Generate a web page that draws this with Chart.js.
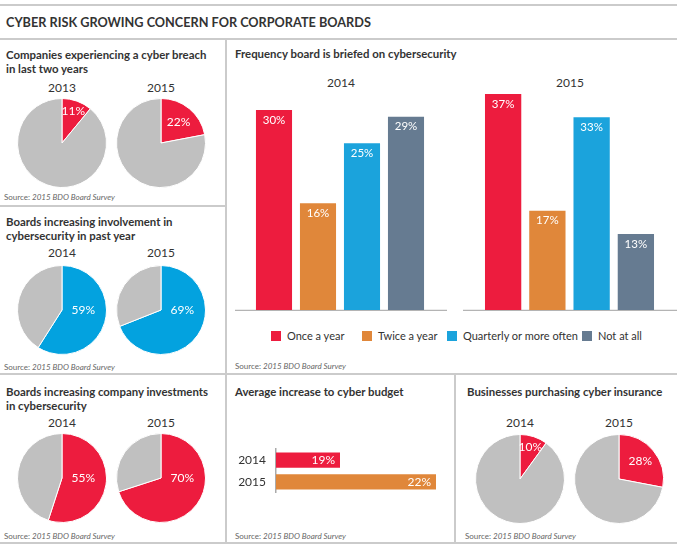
<!DOCTYPE html>
<html>
<head>
<meta charset="utf-8">
<script src="https://cdn.jsdelivr.net/npm/chart.js@4.4.1/dist/chart.umd.min.js"></script>
<style>
  body { margin: 0; width: 679px; height: 550px; background: #fff; font-family: Lato, "Open Sans", sans-serif; color: #333; position: relative; overflow: hidden; }
  .hl, .vl { position: absolute; background: #cbcbcb; }
  .hl { height: 2px; }
  .vl { width: 2px; }
  .t { position: absolute; white-space: nowrap; }
  .main { font-weight: 700; font-size: 12.7px; line-height: 16px; color: #333; }
  .ptitle { font-weight: 700; font-size: 11.4px; line-height: 14px; color: #333; }
  .year { font-size: 12px; line-height: 14px; width: 100px; text-align: center; color: #333; }
  .src { font-size: 8px; line-height: 10px; color: #666; }
  .src i { font-style: italic; }
  .leg { position: absolute; font-size: 11px; line-height: 14px; color: #333; white-space: nowrap; }
  .sw { position: absolute; width: 10px; height: 10px; }
  canvas { position: absolute; }
</style>
</head>
<body>
<!-- frame lines -->
<div class="hl" style="left:0;top:4px;width:677px"></div>
<div class="hl" style="left:0;top:38px;width:677px"></div>
<div class="vl" style="left:225px;top:39px;height:505px"></div>
<div class="hl" style="left:0;top:205px;width:226px"></div>
<div class="hl" style="left:0;top:373px;width:677px"></div>
<div class="vl" style="left:454px;top:374px;height:170px"></div>
<div class="hl" style="left:0;top:542px;width:677px"></div>

<div class="t main" style="left:6px;top:14px">CYBER RISK GROWING CONCERN FOR CORPORATE BOARDS</div>

<div class="t ptitle" style="left:6px;top:48px">Companies experiencing a cyber breach<br>in last two years</div>
<div class="t ptitle" style="left:6px;top:215px">Boards increasing involvement in<br>cybersecurity in past year</div>
<div class="t ptitle" style="left:6px;top:385px">Boards increasing company investments<br>in cybersecurity</div>
<div class="t ptitle" style="left:235px;top:47px">Frequency board is briefed on cybersecurity</div>
<div class="t ptitle" style="left:235px;top:385px">Average increase to cyber budget</div>
<div class="t ptitle" style="left:467px;top:385px">Businesses purchasing cyber insurance</div>

<div id="years"></div>

<div class="t src" style="left:4px;top:192px">Source: <i>2015 BDO Board Survey</i></div>
<div class="t src" style="left:4px;top:362px">Source: <i>2015 BDO Board Survey</i></div>
<div class="t src" style="left:4px;top:531px">Source: <i>2015 BDO Board Survey</i></div>
<div class="t src" style="left:235px;top:361px">Source: <i>2015 BDO Board Survey</i></div>
<div class="t src" style="left:235px;top:531px">Source: <i>2015 BDO Board Survey</i></div>
<div class="t src" style="left:465px;top:531px">Source: <i>2015 BDO Board Survey</i></div>

<div id="legend"></div>

<canvas id="breach0" width="90" height="90" style="left:17px;top:98px"></canvas>
<canvas id="breach1" width="90" height="90" style="left:116px;top:98px"></canvas>
<canvas id="involve0" width="90" height="90" style="left:17px;top:265px"></canvas>
<canvas id="involve1" width="90" height="90" style="left:116px;top:265px"></canvas>
<canvas id="invest0" width="90" height="90" style="left:17px;top:433px"></canvas>
<canvas id="invest1" width="90" height="90" style="left:116px;top:433px"></canvas>
<canvas id="insure0" width="90" height="90" style="left:475px;top:434px"></canvas>
<canvas id="insure1" width="90" height="90" style="left:574px;top:434px"></canvas>
<canvas id="freq2014" width="212" height="217" style="left:235px;top:94px"></canvas>
<canvas id="freq2015" width="214" height="217" style="left:463px;top:94px"></canvas>
<canvas id="budget" width="210" height="78" style="left:235px;top:432px"></canvas>

<script>
const breachYears = ['2013', '2015'];
const breachValues = [11, 22];

const involvementYears = ['2014', '2015'];
const involvementValues = [59, 69];

const investmentYears = ['2014', '2015'];
const investmentValues = [55, 70];

const insuranceYears = ['2014', '2015'];
const insuranceValues = [10, 28];

const frequencyGroups = ['2014', '2015'];
const frequencyCategories = ['Once a year', 'Twice a year', 'Quarterly or more often', 'Not at all'];
const frequency2014 = [30, 16, 25, 29];
const frequency2015 = [37, 17, 33, 13];

const budgetYears = ['2014', '2015'];
const budgetValues = [19, 22];

// ---- colours ----
const RED = '#ed1c3e';
const ORANGE = '#e0873a';
const BLUE = '#1ba3dc';
const PIE_BLUE = '#03a2df';
const SLATE = '#667b91';
const GREY = '#c0c0c0';
const frequencyColors = [RED, ORANGE, BLUE, SLATE];

const FONT = 'Lato, "Open Sans", sans-serif';

// label inside the coloured slice
const pieLabelPlugin = {
    id: 'pieLabel',
    afterDatasetsDraw(chart) {
        const arc = chart.getDatasetMeta(0).data[0];
        const value = chart.data.datasets[0].data[0];
        const R = arc.outerRadius;
        const frac = value / 100;
        let x, y;
        if (frac > 0.5) {
            x = arc.x + R * 0.48;
            y = arc.y;
        } else {
            const mid = (arc.startAngle + arc.endAngle) / 2;
            const k = frac < 0.15 ? 0.75 : 0.62;
            x = arc.x + Math.cos(mid) * R * k;
            y = arc.y + Math.sin(mid) * R * k;
        }
        const ctx = chart.ctx;
        ctx.save();
        ctx.fillStyle = '#fff';
        ctx.font = '12px ' + FONT;
        ctx.textAlign = 'center';
        ctx.textBaseline = 'middle';
        ctx.fillText(value + '%', x, y);
        ctx.restore();
    }
};

// white value label near the top of each column
const columnLabelPlugin = {
    id: 'columnLabel',
    afterDatasetsDraw(chart) {
        const ctx = chart.ctx;
        const values = chart.data.datasets[0].data;
        ctx.save();
        ctx.fillStyle = '#fff';
        ctx.font = '11.5px ' + FONT;
        ctx.textAlign = 'center';
        ctx.textBaseline = 'middle';
        chart.getDatasetMeta(0).data.forEach((bar, i) => {
            ctx.fillText(values[i] + '%', bar.x, bar.y + 10);
        });
        ctx.restore();
    }
};

// grey baseline running the full canvas width
const baselinePlugin = {
    id: 'baseline',
    beforeDatasetsDraw(chart) {
        const ctx = chart.ctx;
        const y = chart.chartArea.bottom + 0.5;
        ctx.save();
        ctx.strokeStyle = '#b4b4b4';
        ctx.lineWidth = 1.5;
        ctx.beginPath();
        ctx.moveTo(0, y);
        ctx.lineTo(chart.width, y);
        ctx.stroke();
        ctx.restore();
    }
};

// value label at the end of each horizontal bar
const barEndLabelPlugin = {
    id: 'barEndLabel',
    afterDatasetsDraw(chart) {
        const ctx = chart.ctx;
        const values = chart.data.datasets[0].data;
        ctx.save();
        ctx.fillStyle = '#fff';
        ctx.font = '12px ' + FONT;
        ctx.textAlign = 'right';
        ctx.textBaseline = 'middle';
        chart.getDatasetMeta(0).data.forEach((bar, i) => {
            ctx.fillText(values[i] + '%', bar.x - 5, bar.y);
        });
        ctx.restore();
    }
};

function makePie(id, value, color) {
    return new Chart(document.getElementById(id), {
        type: 'pie',
        data: {
            labels: ['yes', 'no'],
            datasets: [{
                data: [value, 100 - value],
                backgroundColor: [color, GREY],
                borderColor: '#fff',
                borderWidth: 1
            }]
        },
        options: {
            responsive: false,
            animation: false,
            events: [],
            plugins: { legend: { display: false }, tooltip: { enabled: false } }
        },
        plugins: [pieLabelPlugin]
    });
}

function makeColumns(id, values, max, padLeft, padRight) {
    return new Chart(document.getElementById(id), {
        type: 'bar',
        data: {
            labels: frequencyCategories,
            datasets: [{
                data: values,
                backgroundColor: frequencyColors,
                borderWidth: 0,
                barPercentage: 0.82,
                categoryPercentage: 1
            }]
        },
        options: {
            responsive: false,
            animation: false,
            events: [],
            layout: { padding: { left: padLeft, right: padRight, top: 0, bottom: 1 } },
            scales: {
                x: { display: false },
                y: { display: false, min: 0, max: max }
            },
            plugins: { legend: { display: false }, tooltip: { enabled: false } }
        },
        plugins: [baselinePlugin, columnLabelPlugin]
    });
}

// year headings above each pie / column group
const yearSpots = [
    [breachYears, [62, 161], 81],
    [involvementYears, [62, 161], 246],
    [investmentYears, [62, 161], 416],
    [insuranceYears, [520, 619], 416],
    [frequencyGroups, [341, 570], 76]
];
const yearsBox = document.getElementById('years');
yearSpots.forEach(([labels, xs, top]) => {
    labels.forEach((label, i) => {
        const d = document.createElement('div');
        d.className = 't year';
        d.style.left = (xs[i] - 50) + 'px';
        d.style.top = top + 'px';
        d.textContent = label;
        yearsBox.appendChild(d);
    });
});

// legend for the column chart
const legendX = [271, 362, 447, 582];
const legendBox = document.getElementById('legend');
frequencyCategories.forEach((name, i) => {
    const sw = document.createElement('div');
    sw.className = 'sw';
    sw.style.left = legendX[i] + 'px';
    sw.style.top = '331px';
    sw.style.background = frequencyColors[i];
    legendBox.appendChild(sw);
    const tx = document.createElement('div');
    tx.className = 'leg';
    tx.style.left = (legendX[i] + 16) + 'px';
    tx.style.top = '329px';
    tx.textContent = name;
    legendBox.appendChild(tx);
});

makePie('breach0', breachValues[0], RED);
makePie('breach1', breachValues[1], RED);
makePie('involve0', involvementValues[0], PIE_BLUE);
makePie('involve1', involvementValues[1], PIE_BLUE);
makePie('invest0', investmentValues[0], RED);
makePie('invest1', investmentValues[1], RED);
makePie('insure0', insuranceValues[0], RED);
makePie('insure1', insuranceValues[1], RED);

makeColumns('freq2014', frequency2014, 32.4, 17, 19);
makeColumns('freq2015', frequency2015, 37, 18, 19);

new Chart(document.getElementById('budget'), {
    type: 'bar',
    data: {
        labels: budgetYears,
        datasets: [{
            data: budgetValues,
            backgroundColor: [RED, ORANGE],
            borderWidth: 0,
            barPercentage: 0.7,
            categoryPercentage: 1
        }]
    },
    options: {
        indexAxis: 'y',
        responsive: false,
        animation: false,
        events: [],
        layout: { padding: { left: 0, right: 9, top: 2, bottom: 2 } },
        scales: {
            x: { display: false, min: 17, max: 22 },
            y: {
                grid: { display: false, drawTicks: false },
                border: { display: true, color: '#aaaaaa', width: 1.5 },
                ticks: { color: '#333', font: { family: FONT, size: 12 }, padding: 10 },
                afterFit(scale) { scale.width = 41; }
            }
        },
        plugins: { legend: { display: false }, tooltip: { enabled: false } }
    },
    plugins: [barEndLabelPlugin]
});
</script>
</body>
</html>
